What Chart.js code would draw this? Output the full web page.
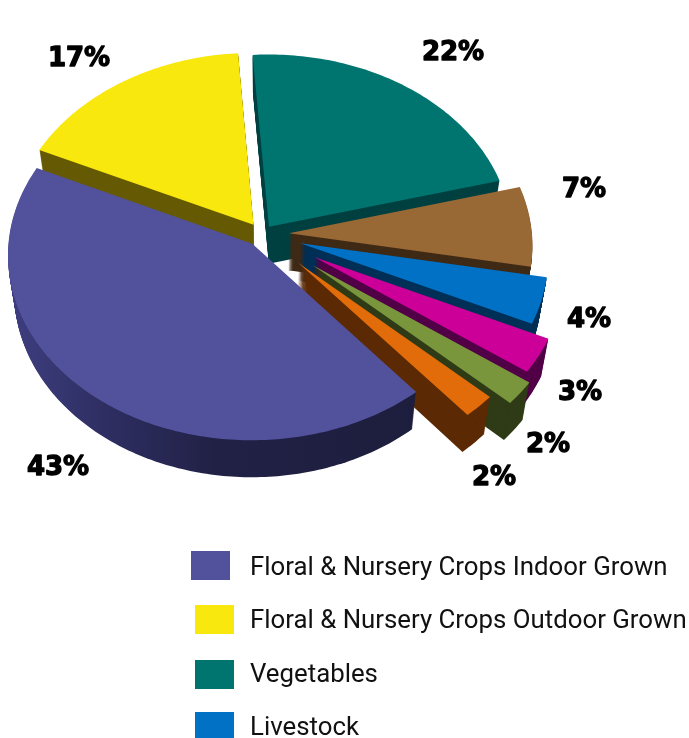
<!DOCTYPE html>
<html><head><meta charset="utf-8">
<style>html,body{margin:0;padding:0;background:#fff;overflow:hidden}canvas{display:block}</style>
<script src="https://cdn.jsdelivr.net/npm/chart.js@4"></script>
</head><body><div style="width:689px;height:738px"><canvas id="c"></canvas></div>
<script>
const categories = ['Floral & Nursery Crops Indoor Grown','Floral & Nursery Crops Outdoor Grown','Vegetables','','Livestock','','',''];
const shares = [43,17,22,7,4,3,2,2];
const topColors = ['#52519c','#f9e80e','#007570','#986835','#0071c5','#cc0099','#7a963c','#e36c0a'];
const sideColors = ['#1e1e40','#665a05','#004040','#3f2a16','#003057','#520047','#2f3b16','#5b2a04'];
const explode = [16,15,12,27,40,60,65,52];
const radiusGain = [1,1,1,1,1.015,1.02,1.035,1.012];
const drawOrder = [1,2,3,4,5,6,7,0];
const labelCenters = [[58,468],[79,59],[453,53],[584,190],[589,320],[580,393],[548,445],[494,478]];
const legendRows = [[191,551,575],[195,605,628],[195,660,682],[195,712,735]];

const TILT=0.755, FOCAL=4000, DEPTH=37, CONVERGE=0.024/36;
function project(cx,cy,px,py,z){
  const s=1/(1-py/FOCAL);
  const X=px*s, Y=TILT*py*s;
  return [cx+X*(1-z*CONVERGE), cy+Y+z];
}
function slicePath(ctx,arc,z,gain){
  const {x,y,startAngle:a0,endAngle:a1,outerRadius}=arc.getProps(['x','y','startAngle','endAngle','outerRadius'],true);
  const r=outerRadius*gain;
  const off=arc.options.offset, mid=(a0+a1)/2;
  const ox=Math.cos(mid)*off, oy=Math.sin(mid)*off;
  ctx.beginPath();
  let p=project(x,y,ox,oy,z); ctx.moveTo(p[0],p[1]);
  const n=Math.max(8,Math.ceil((a1-a0)*60));
  for(let i=0;i<=n;i++){
    const a=a0+(a1-a0)*i/n;
    p=project(x,y,ox+Math.cos(a)*r,oy+Math.sin(a)*r,z);
    ctx.lineTo(p[0],p[1]);
  }
  ctx.closePath();
}
const pie3d={
  id:'pie3d',
  beforeDatasetDraw(chart){
    const ctx=chart.ctx, arcs=chart.getDatasetMeta(0).data;
    ctx.save();
    drawOrder.forEach(i=>{
      const arc=arcs[i];
      let side=sideColors[i];
      if(i===0){
        const g=ctx.createLinearGradient(10,0,420,0);
        g.addColorStop(0,'#3e3e80');g.addColorStop(0.25,'#2d2d60');g.addColorStop(0.5,'#212146');g.addColorStop(1,'#1d1d3d');
        side=g;
      }
      ctx.fillStyle=side;
      for(let z=DEPTH;z>0;z-=1){slicePath(ctx,arc,z,radiusGain[i]);ctx.fill();}
      ctx.fillStyle=arc.options.backgroundColor;
      slicePath(ctx,arc,0,radiusGain[i]);ctx.fill();
    });
    ctx.restore();
    return false;
  },
  afterDraw(chart){
    const ctx=chart.ctx;
    ctx.save();
    ctx.fillStyle='#000';ctx.strokeStyle='#000';ctx.lineWidth=1.3;ctx.lineJoin='round';
    ctx.font='bold 26px "DejaVu Sans"';ctx.textAlign='center';ctx.textBaseline='middle';
    shares.forEach((v,i)=>{
      const t=v+'%',[x,y]=labelCenters[i];
      ctx.fillText(t,x,y);ctx.strokeText(t,x,y);
    });
    ctx.textAlign='left';ctx.textBaseline='alphabetic';ctx.font='25.8px Roboto';
    let row=0;
    categories.forEach((name,i)=>{
      if(!name)return;
      const [bx,by,base]=legendRows[row++];
      ctx.fillStyle=topColors[i];ctx.fillRect(bx,by,39,29);
      ctx.fillStyle='#111';ctx.fillText(name,250,base);
    });
    ctx.restore();
  }
};
new Chart(document.getElementById('c'),{
  type:'pie',
  data:{labels:categories,datasets:[{data:shares,backgroundColor:topColors,offset:explode,borderWidth:0}]},
  options:{
    responsive:true,maintainAspectRatio:false,animation:false,events:[],
    rotation:140,radius:243,
    layout:{padding:{left:0,top:0,right:165,bottom:270}},
    plugins:{legend:{display:false},tooltip:{enabled:false}}
  },
  plugins:[pie3d]
});
</script></body></html>
